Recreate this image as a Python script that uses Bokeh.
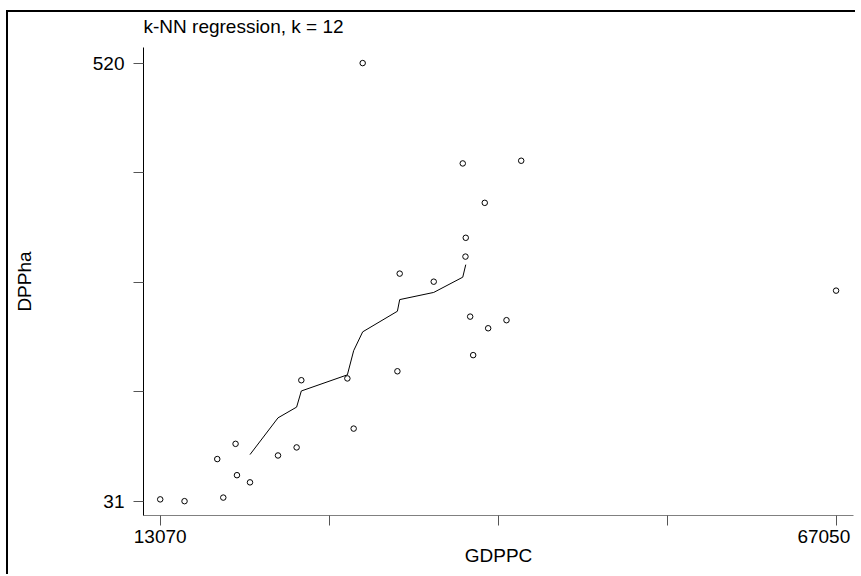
from bokeh.plotting import figure
from bokeh.models import FixedTicker, Range1d
from bokeh.embed import file_html
from bokeh.resources import INLINE

# data
gdppc = [13070, 15012, 18106, 17626, 19089, 19200, 20240, 22478, 23964, 24340,
         28017, 28520, 29240, 32013, 32197, 34915, 37233, 41901, 38991, 37473,
         37449, 37825, 39263, 40726, 38064, 67050]
dppha = [33, 31, 35, 78, 95, 60, 52, 82, 91, 166,
         168, 112, 520, 176, 285, 276, 408, 411, 364, 325,
         304, 237, 224, 233, 194, 266]

knn_x = [20240, 22478, 23964, 24340, 28017, 28520, 29240, 32013, 32197, 34915, 37233, 37473]
knn_y = [83, 124, 136, 154, 172, 199, 220, 243, 256, 264, 281, 295]

x_ticks = [13070, 26565, 40060, 53555, 67050]
y_ticks = [31, 153.25, 275.5, 397.75, 520]
x_tick_labels = {67050: "67050\u00a0"}

title_text = "k-NN regression, k = 12"
x_label = "GDPPC"
y_label = "DPPha"

FONT = "Liberation Sans"
FS = "19px"

p = figure(width=855, height=574, output_backend="svg", toolbar_location=None,
           x_range=Range1d(11735, 68441), y_range=Range1d(15.0, 537.4),
           min_border_left=143, min_border_right=2, min_border_top=47, min_border_bottom=59,
           title=title_text)
# page frame lines (left and top edges of the surrounding box)
p.styles = {"background-image": "linear-gradient(#000, #000), linear-gradient(#000, #000)",
            "background-size": "2px 100%, 100% 2px",
            "background-position": "6px 10px, 6px 10px",
            "background-repeat": "no-repeat"}
p.outline_line_color = None
p.xgrid.visible = False
p.ygrid.visible = False
p.background_fill_color = "white"
p.border_fill_color = None

p.title.align = "left"
p.title.text_font = FONT
p.title.text_font_size = FS
p.title.text_font_style = "normal"
p.title.text_color = "black"
p.title.offset = 0
p.title.standoff = 22

for ax, ticks in ((p.xaxis[0], x_ticks), (p.yaxis[0], y_ticks)):
    ax.ticker = FixedTicker(ticks=[ticks[0], ticks[-1]], minor_ticks=ticks[1:-1])
    ax.major_tick_in = 0
    ax.major_tick_out = 10
    ax.minor_tick_in = 0
    ax.minor_tick_out = 10
    ax.major_label_text_font = FONT
    ax.major_label_text_font_size = FS
    ax.major_label_text_color = "black"
    ax.axis_label_text_font = FONT
    ax.axis_label_text_font_size = FS
    ax.axis_label_text_font_style = "normal"
    ax.axis_label_text_color = "black"
    ax.major_tick_line_color = "#555555"
    ax.minor_tick_line_color = "#555555"

p.xaxis.axis_label = x_label
p.yaxis.axis_label = y_label
p.xaxis.major_label_overrides = x_tick_labels
p.xaxis.axis_line_color = "#808080"
p.xaxis.axis_line_width = 1
p.yaxis.axis_line_color = "black"
p.xaxis.major_label_standoff = 0
p.xaxis.axis_label_standoff = -5
p.yaxis.major_label_standoff = 9
p.yaxis.axis_label_standoff = 55

p.line(knn_x, knn_y, line_color="black", line_width=1)
p.scatter(gdppc, dppha, marker="circle", size=5.5, fill_color=None, line_color="black", line_width=1)

open("out.html", "w").write(file_html(p, INLINE))
